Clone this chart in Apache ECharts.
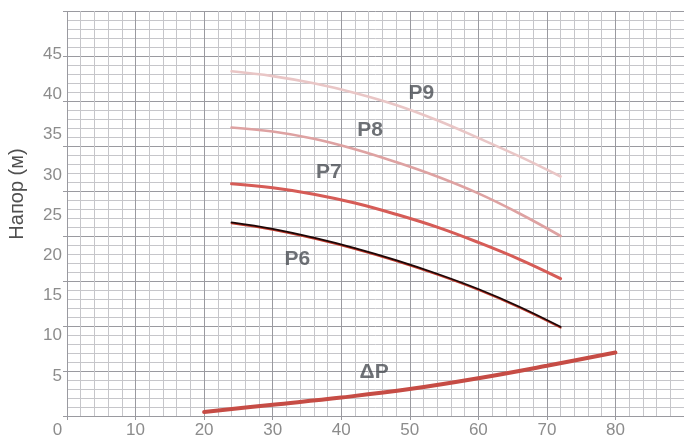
<!DOCTYPE html>
<html>
<head>
<meta charset="utf-8">
<script src="https://cdn.jsdelivr.net/npm/echarts@6/dist/echarts.min.js"></script>
<style>
  html, body { margin: 0; padding: 0; background: #fff; }
  #chart { width: 684px; height: 439px; }
</style>
</head>
<body>
<div id="chart"></div>
<script>
// flow (x) points shared by the pump curves
const flowX = [24, 30, 36, 42, 48, 54, 60, 66, 72];
const p9 = [42.9, 42.3, 41.4, 40.2, 38.7, 36.8, 34.6, 32.3, 29.8];
const p8 = [35.9, 35.4, 34.5, 33.2, 31.6, 29.8, 27.7, 25.2, 22.4];
const p7 = [28.9, 28.4, 27.6, 26.5, 25.1, 23.5, 21.6, 19.5, 17.1];
const p6 = [24.1, 23.3, 22.2, 20.9, 19.4, 17.7, 15.8, 13.6, 11.1];
// pressure loss curve
const dpX = [20, 30, 40, 50, 60, 70, 80];
const dp = [0.5, 1.4, 2.3, 3.35, 4.7, 6.25, 7.9];
// curve names and where their text sits (data units)
const curveNames = ['P9', 'P8', 'P7', 'P6', 'ΔP'];
const labelAt = [[51.7, 40.2], [44.2, 35.6], [38.2, 30.4], [33.6, 19.5], [44.8, 5.5]];

const pairs = (xs, ys) => xs.map((x, i) => [x, ys[i]]);

const chart = echarts.init(document.getElementById('chart'));

function curve(name, xs, ys, color, width, extra) {
  return {
    name: name,
    type: 'line',
    data: pairs(xs, ys),
    smooth: 0.4,
    showSymbol: false,
    silent: true,
    z: 5,
    lineStyle: Object.assign({ color: color, width: width, cap: 'round' }, extra || {}),
  };
}

const option = {
  animation: false,
  grid: { left: 67, right: -2, top: 11, bottom: 22 },
  xAxis: {
    type: 'value',
    min: 0,
    max: 90,
    interval: 10,
    axisLine: { show: true, lineStyle: { color: '#9a9aa0', width: 1 } },
    axisTick: { show: true, length: 4, lineStyle: { color: '#9a9aa0' } },
    axisLabel: {
      showMaxLabel: false,
      margin: 6,
      fontSize: 17,
      color: '#8c8c8c',
      fontFamily: 'Liberation Sans, Arial, sans-serif',
      formatter: (v) => (v === 0 ? '{z|0}' : String(v)),
      rich: { z: { fontSize: 17, color: '#8c8c8c', padding: [0, 19, 0, 0] } },
    },
    splitLine: { show: true, lineStyle: { color: '#9a9aa0', width: 1 } },
    minorTick: { show: false, splitNumber: 5 },
    minorSplitLine: { show: true, lineStyle: { color: '#c6c6ca', width: 1 } },
  },
  yAxis: [
    {
      type: 'value',
      min: 0,
      max: 50.4,
      interval: 5,
      axisLine: { show: false },
      axisTick: { show: false },
      splitLine: { show: false },
      axisLabel: {
        margin: 5,
        fontSize: 17,
        color: '#8c8c8c',
        fontFamily: 'Liberation Sans, Arial, sans-serif',
        formatter: (v) => (v === 0 || v > 45 ? '' : String(v)),
      },
    },
    {
      // graph-paper rulings
      type: 'value',
      min: 0,
      max: 45,
      interval: 5,
      position: 'left',
      axisLine: { show: false },
      axisLabel: { show: false },
      axisTick: { show: true, length: 4, lineStyle: { color: '#9a9aa0' } },
      splitLine: { show: true, lineStyle: { color: '#9a9aa0', width: 1 } },
      minorTick: { show: false, splitNumber: 5 },
      minorSplitLine: { show: true, lineStyle: { color: '#c6c6ca', width: 1 } },
    },
  ],
  graphic: [
    {
      type: 'text',
      x: 17,
      y: 194,
      rotation: Math.PI / 2,
      style: {
        text: 'Напор (м)',
        fontSize: 20,
        fill: '#4f4f4f',
        fontFamily: 'Liberation Sans, Arial, sans-serif',
        align: 'center',
        verticalAlign: 'middle',
      },
    },
  ],
  series: [
    curve('P9', flowX, p9, '#e9c6c6', 2.6),
    curve('P8', flowX, p8, '#dea2a2', 2.6),
    curve('P7', flowX, p7, '#d65c57', 3),
    curve('P6', flowX, p6, '#1c0606', 1.8, { shadowColor: '#c0392b', shadowOffsetY: 1, shadowBlur: 0 }),
    curve('ΔP', dpX, dp, '#c64c45', 4),
    {
      type: 'scatter',
      symbolSize: 0,
      silent: true,
      z: 6,
      data: curveNames.map((n, i) => ({ name: n, value: labelAt[i] })),
      label: {
        show: true,
        position: 'inside',
        formatter: (p) => p.name,
        fontSize: 21,
        fontWeight: 'bold',
        color: '#4a4e54',
        fontFamily: 'Liberation Sans, Arial, sans-serif',
      },
    },
  ],
};

chart.setOption(option);
</script>
</body>
</html>
